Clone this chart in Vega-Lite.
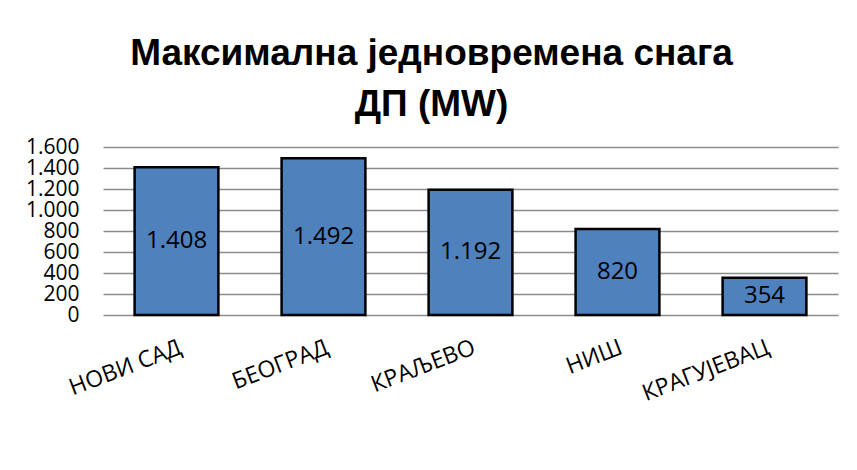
{
  "$schema": "https://vega.github.io/schema/vega-lite/v6.json",
  "width": 735,
  "height": 168,
  "autosize": {"type": "none"},
  "padding": {"left": 103, "top": 147, "right": 19, "bottom": 155},
  "background": "white",
  "config": {
    "view": {"stroke": null},
    "locale": {"number": {"decimal": ",", "thousands": ".", "grouping": [3], "currency": ["", " €"]}}
  },
  "title": {
    "text": ["Максимална једновремена снага", "ДП (MW)"],
    "font": "Liberation Sans",
    "fontSize": 37,
    "fontWeight": "bold",
    "color": "black",
    "anchor": "middle",
    "dx": -39,
    "lineHeight": 51,
    "baseline": "alphabetic",
    "offset": -17
  },
  "data": {
    "values": [
      {"grad": "НОВИ САД", "snaga": 1408},
      {"grad": "БЕОГРАД", "snaga": 1492},
      {"grad": "КРАЉЕВО", "snaga": 1192},
      {"grad": "НИШ", "snaga": 820},
      {"grad": "КРАГУЈЕВАЦ", "snaga": 354}
    ]
  },
  "encoding": {
    "x": {
      "field": "grad",
      "type": "nominal",
      "sort": null,
      "scale": {"paddingInner": 0.43, "paddingOuter": 0.215},
      "axis": {
        "title": null,
        "labelAngle": -21,
        "domain": false,
        "ticks": false,
        "labelPadding": 21,
        "labelFont": "Open Sans",
        "labelFontSize": 23,
        "labelColor": "black"
      }
    }
  },
  "layer": [
    {
      "mark": {"type": "bar", "color": "#4F81BD", "stroke": "black", "strokeWidth": 2.5},
      "encoding": {
        "y": {
          "field": "snaga",
          "type": "quantitative",
          "scale": {"domain": [0, 1600], "nice": false},
          "axis": {
            "title": null,
            "values": [0, 200, 400, 600, 800, 1000, 1200, 1400, 1600],
            "format": ",d",
            "domain": false,
            "ticks": false,
            "grid": true,
            "gridColor": "#8c8c8c",
            "gridWidth": 1.4,
            "labelPadding": 24,
            "labelFont": "Open Sans",
            "labelFontSize": 21,
            "labelColor": "black"
          }
        }
      }
    },
    {
      "mark": {"type": "text", "font": "Open Sans", "fontSize": 24, "color": "black", "baseline": "middle"},
      "encoding": {
        "y": {
          "field": "snaga",
          "type": "quantitative",
          "scale": {"domain": [0, 3200], "nice": false},
          "axis": null
        },
        "text": {"field": "snaga", "type": "quantitative", "format": ",d"}
      }
    }
  ],
  "resolve": {"scale": {"y": "independent"}}
}
